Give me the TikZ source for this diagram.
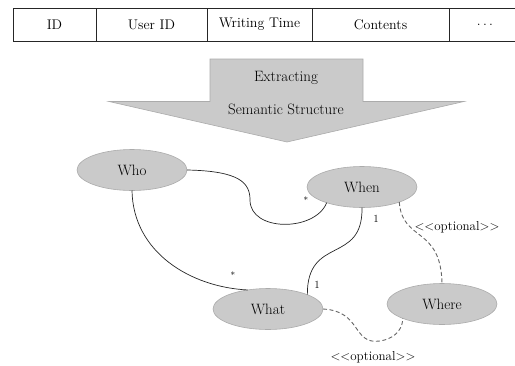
\documentclass[tikz,border=0pt]{standalone}
\usepackage{fontspec}
\usetikzlibrary{shapes.geometric}
\definecolor{shade}{HTML}{CACACA}
\definecolor{rim}{HTML}{ABABAB}
\tikzset{
  entity/.style={ellipse, fill=shade, draw=rim, line width=0.6pt, minimum width=110pt,
    minimum height=41pt, inner sep=0pt, outer sep=0pt, font=\fontsize{15}{17}\selectfont},
  cell/.style={draw=black!85, rectangle, line width=0.8pt, minimum height=33pt,
    inner sep=0pt, outer sep=0pt, font=\fontsize{14}{16}\selectfont},
  link/.style={draw=black!85, line width=0.7pt},
  optlink/.style={draw=black!60, line width=0.9pt, dash pattern=on 4pt off 2.5pt},
  mult/.style={inner sep=1pt, font=\fontsize{11}{12}\selectfont},
  note/.style={inner sep=1pt, font=\fontsize{13}{14}\selectfont}
}
\begin{document}
\begin{tikzpicture}[x=1pt,y=-1pt]
\useasboundingbox (0,0) rectangle (515,365);
% source record
\node[cell, minimum width=83pt]  (id)       at (54.5,24.5)  {ID};
\node[cell, minimum width=111pt] (userid)   at (151.5,24.5) {User ID};
\node[cell, minimum width=105pt] (time)     at (259.5,24.5) {Writing Time};
\node[cell, minimum width=137pt] (contents) at (380.5,24.5) {Contents};
\node[cell, minimum width=72pt]  (more)     at (485,24.5)   {.\,.\,.};
% extraction arrow
\draw[fill=shade, draw=rim, line width=0.6pt] (210,59) -- (363,59) -- (363,101.5) -- (464,101.5)
    -- (287,142) -- (109,101.5) -- (210,101.5) -- cycle;
\node[font=\fontsize{15}{17}\selectfont] (ext) at (286,78) {Extracting};
\node[font=\fontsize{15}{17}\selectfont] (sem) at (286,109) {Semantic Structure};
% semantic structure
\node[entity] (who)   at (132,170) {Who};
\node[entity] (when)  at (362,187) {When};
\node[entity] (what)  at (268,309) {What};
\node[entity] (where) at (442,304) {Where};
\draw[link] (who.east) .. controls (240,171) and (250,183) .. (250,200)
    .. controls (250,232) and (315,232) .. (when.204);
\draw[link] (who.south) .. controls (133,252) and (190,287) .. (what.137);
\draw[link] (when.south) .. controls (363,265) and (307,235) .. (what.20);
\draw[optlink] (when.338) .. controls (402,242) and (441,226) .. (where.north);
\draw[optlink] (what.east) .. controls (362,311) and (352,345) .. (380,341)
    .. controls (398,338) and (403,326) .. (where.200);
\node[mult, font=\fontsize{9}{10}\selectfont] (s1) at (306,200) {*};
\node[mult, font=\fontsize{9}{10}\selectfont] (s2) at (233,275) {*};
\node[mult] (m1) at (376,219) {1};
\node[mult] (m2) at (317,285) {1};
\node[note] (opt1) at (457,227) {<{}<optional>{}>};
\node[note] (opt2) at (373,357) {<{}<optional>{}>};
\end{tikzpicture}
\end{document}
